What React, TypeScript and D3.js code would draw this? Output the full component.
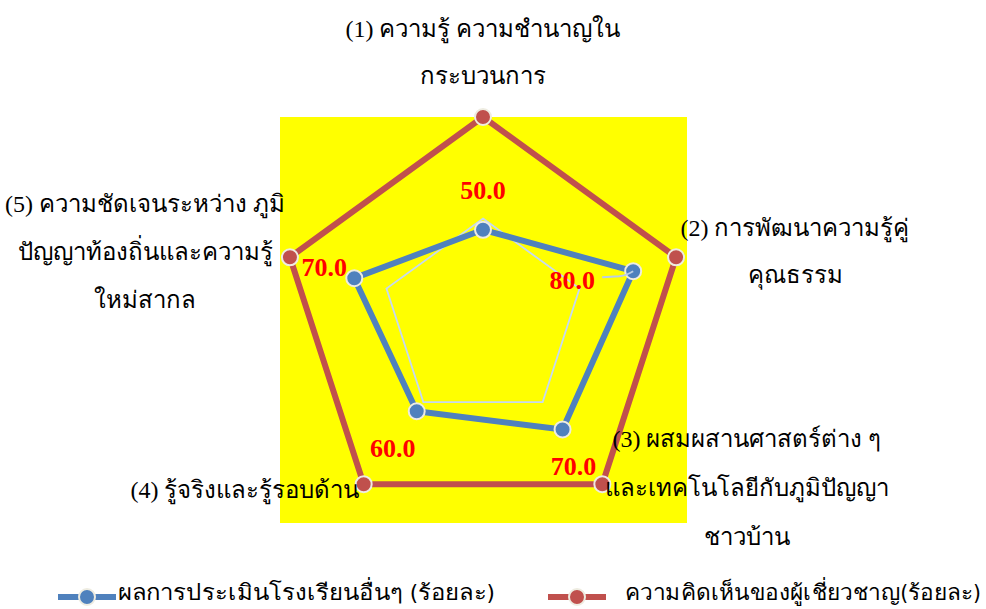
import React from "react";
import * as d3 from "d3";

const width = 986;
const height = 609;

// axis labels, one entry per line
const axisLabels = [
  ["(1) ความรู้ ความชำนาญใน", "กระบวนการ"],
  ["(2) การพัฒนาความรู้คู่", "คุณธรรม"],
  ["(3) ผสมผสานศาสตร์ต่าง ๆ", "และเทคโนโลยีกับภูมิปัญญา", "ชาวบ้าน"],
  ["(4) รู้จริงและรู้รอบด้าน"],
  ["(5) ความชัดเจนระหว่าง ภูมิ", "ปัญญาท้องถิ่นและความรู้", "ใหม่สากล"],
];

const schoolValues = [50, 80, 70, 60, 70];
const expertValues = [100, 100, 100, 100, 100];
const seriesNames = ["ผลการประเมินโรงเรียนอื่นๆ (ร้อยละ)", "ความคิดเห็นของผู้เชี่ยวชาญ(ร้อยละ)"];
const gridLevels = [55];

// layout
const cx = 483;
const cy = 320;
const R = 203;
const labelPos = [
  { x: 483, y: 37 },
  { x: 795, y: 236 },
  { x: 747, y: 447 },
  { x: 245, y: 498 },
  { x: 145, y: 212 },
];
const labelLineGap = [47, 47, 49, 0, 48];
const valueOffsets = [
  [0, -31],
  [-61, 18],
  [11, 46],
  [-24, 46],
  [-30, -2],
];
const legendLayout = [
  { x0: 58, tx: 118, tw: 377 },
  { x0: 548, tx: 625, tw: 356 },
];

const BLUE = "#4F81BD";
const RED = "#C0504D";
const thaiFont = "'Liberation Serif', 'DejaVu Serif', serif";

const App = () => {
  const r = d3.scaleLinear().domain([10, 100]).range([0, R]);
  const angle = d3
    .scaleLinear()
    .domain([0, axisLabels.length])
    .range([0, 2 * Math.PI]);

  const pt = (i: number, v: number): [number, number] => {
    const a = angle(i) - Math.PI / 2;
    return [cx + r(v) * Math.cos(a), cy + r(v) * Math.sin(a)];
  };

  const closed = d3.line().curve(d3.curveLinearClosed);
  const schoolPts = schoolValues.map((v, i) => pt(i, v));
  const expertPts = expertValues.map((v, i) => pt(i, v));

  const p2 = schoolPts[1];

  return (
    <svg width={width} height={height} style={{ position: "absolute", left: 0, top: 0, background: "#fff" }}>
      <rect x={280} y={117} width={407} height={406} fill="#FFFF00" />

      {gridLevels.map((g) => (
        <path
          key={g}
          d={closed(axisLabels.map((_, i) => pt(i, g))) || ""}
          fill="none"
          stroke="#C6D9F1"
          strokeWidth={1.8}
        />
      ))}

      <path d={closed(expertPts) || ""} fill="none" stroke={RED} strokeWidth={6} strokeLinejoin="round" />
      <path d={closed(schoolPts) || ""} fill="none" stroke={BLUE} strokeWidth={6} strokeLinejoin="round" />

      {expertPts.map(([x, y], i) => (
        <circle key={"e" + i} cx={x} cy={y} r={8} fill={RED} stroke="#EEECE1" strokeWidth={2} />
      ))}
      {schoolPts.map(([x, y], i) => (
        <circle key={"s" + i} cx={x} cy={y} r={8} fill={BLUE} stroke="#EEECE1" strokeWidth={2} />
      ))}

      {/* leader line for label (2) */}
      <path
        d={`M${p2[0] - 31},${p2[1] + 6} L${p2[0] - 14},${p2[1] + 5} Q${p2[0] - 6},${p2[1] + 4} ${p2[0]},${p2[1]}`}
        fill="none"
        stroke="#B9CDE5"
        strokeWidth={2}
      />

      {schoolValues.map((v, i) => (
        <text
          key={"v" + i}
          x={schoolPts[i][0] + valueOffsets[i][0]}
          y={schoolPts[i][1] + valueOffsets[i][1]}
          textAnchor="middle"
          fill="#FF0000"
          fontWeight="bold"
          fontSize={26}
          fontFamily="'Liberation Serif', serif"
        >
          {d3.format(".1f")(v)}
        </text>
      ))}

      {axisLabels.map((lines, i) =>
        lines.map((line, j) => (
          <text
            key={"l" + i + "-" + j}
            x={labelPos[i].x}
            y={labelPos[i].y + j * labelLineGap[i]}
            textAnchor="middle"
            fontSize={24}
            fontFamily={thaiFont}
            fill="#000"
          >
            {line}
          </text>
        ))
      )}

      {/* legend */}
      {seriesNames.map((name, i) => {
        const { x0, tx, tw } = legendLayout[i];
        const color = i === 0 ? BLUE : RED;
        return (
          <g key={"lg" + i}>
            <line x1={x0} x2={x0 + 58} y1={597} y2={597} stroke={color} strokeWidth={6} />
            <circle cx={x0 + 29} cy={597} r={8} fill={color} stroke="#EEECE1" strokeWidth={2} />
            <text
              x={tx}
              y={600}
              fontSize={22}
              textLength={tw}
              lengthAdjust="spacingAndGlyphs"
              fontFamily="'DejaVu Sans Condensed', 'DejaVu Sans', sans-serif"
              fill="#000"
            >
              {name}
            </text>
          </g>
        );
      })}
    </svg>
  );
};

export default App;
